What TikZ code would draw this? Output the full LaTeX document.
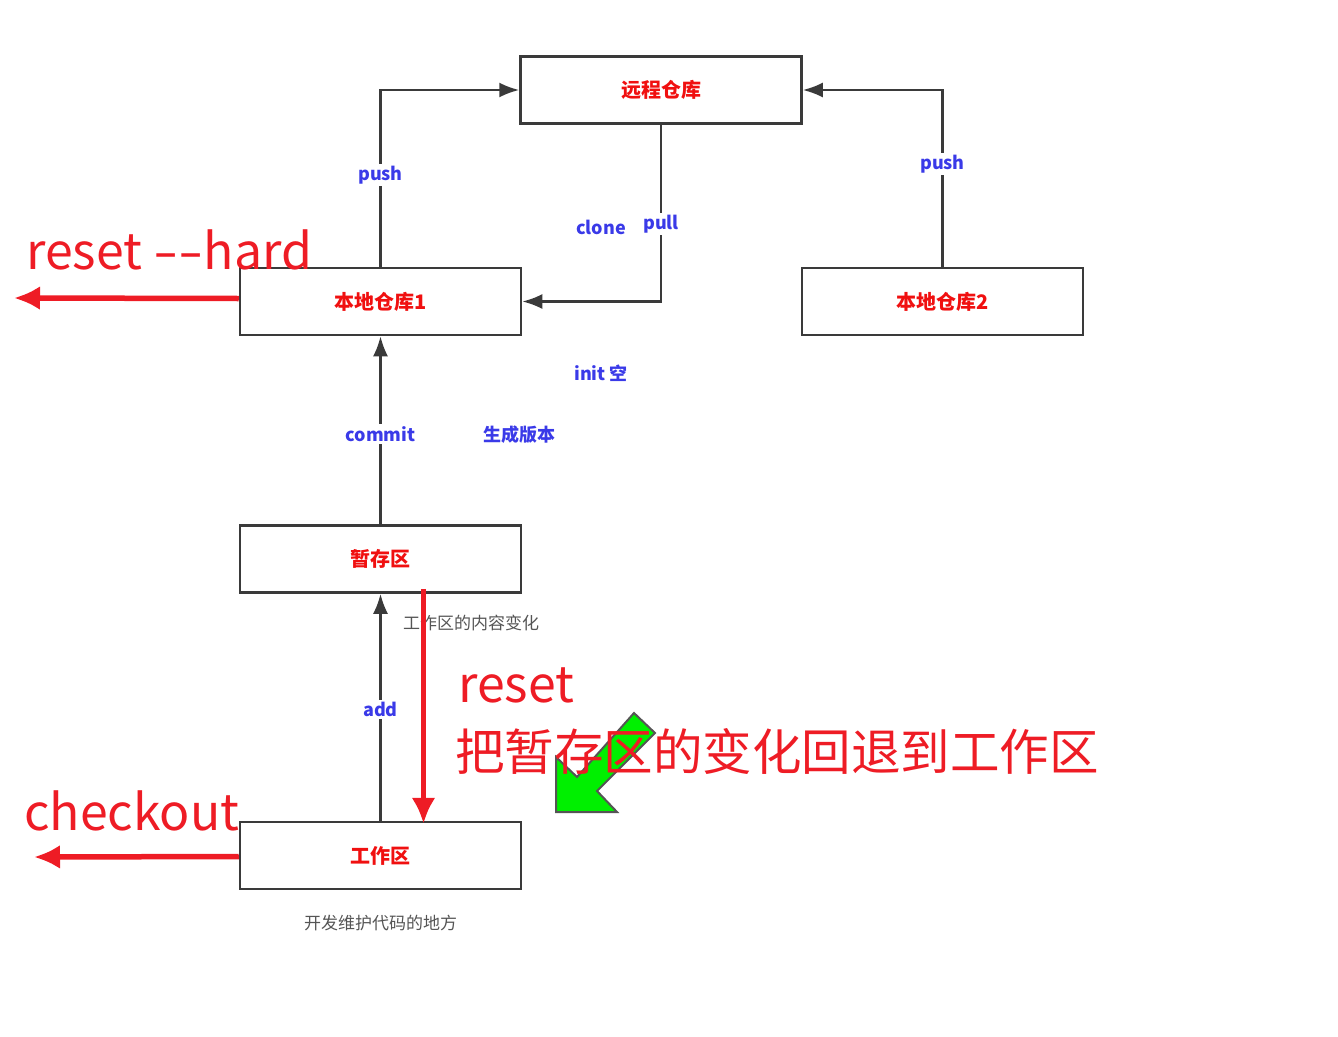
\documentclass[tikz,border=0pt]{standalone}
\usepackage{fontspec}
\usepackage{graphicx}
\setmainfont{Noto Sans CJK SC}
\usetikzlibrary{arrows.meta}
\definecolor{boxline}{HTML}{3A3A3A}
\definecolor{boxred}{HTML}{F01010}
\definecolor{lblblue}{HTML}{3A3AE8}
\definecolor{bigred}{HTML}{EE1C25}
\definecolor{noteg}{HTML}{555555}
\definecolor{arrgreen}{HTML}{00F000}
\newcommand{\widehy}{\scalebox{1.45}[1]{-}}
\tikzset{
  repobox/.style={draw=boxline, line width=2.5pt, minimum width=281pt, minimum height=67pt,
    inner sep=0pt, font=\fontsize{20}{24}\selectfont\bfseries, text=boxred},
  conn/.style={draw=boxline, line width=2.5pt, -{Latex[length=20pt,width=15pt]}},
  lbl/.style={fill=white, inner sep=2pt, text=lblblue, font=\fontsize{18}{22}\selectfont\bfseries},
  freelbl/.style={inner sep=0pt, text=lblblue, font=\fontsize{18}{22}\selectfont\bfseries},
  note/.style={inner sep=0pt, text=noteg, font=\fontsize{17}{20}\selectfont},
  bigtxt/.style={inner sep=0pt, anchor=base west, text=bigred, font=\fontsize{50}{56}\selectfont},
  redarrow/.style={draw=bigred, line width=5.5pt, -{Latex[length=26pt,width=24pt]}}
}
\begin{document}
\begin{tikzpicture}[x=1pt,y=-1pt]
\useasboundingbox (0,0) rectangle (1338,1036);
% boxes
\node[repobox] (remote) at (661,90) {远程仓库};
\node[repobox] (local1) at (380.5,301.5) {本地仓库1};
\node[repobox] (local2) at (942.5,301.5) {本地仓库2};
\node[repobox] (stage) at (380.5,559) {暂存区};
\node[repobox] (work) at (380.5,855.5) {工作区};
% connectors
\draw[conn] (local1.north) |- node[lbl, pos=0.26] {push} (remote.west);
\draw[conn] (local2.north) |- node[lbl, pos=0.29] {push} (remote.east);
\draw[conn] (remote.south) |- node[lbl, pos=0.28] {pull} (local1.east);
\draw[conn] (stage.north) -- node[lbl, pos=0.48] {commit} (local1.south);
\draw[conn] (work.north) -- node[lbl, pos=0.49] {add} (stage.south);
% free labels
\node[freelbl] (clone) at (601,227) {clone};
\node[freelbl] (init) at (601,373) {init 空};
\node[freelbl] (gen) at (519,435) {生成版本};
\node[note] (chg) at (471,623) {工作区的内容变化};
\node[note] (dev) at (380.5,923) {开发维护代码的地方};
% big red annotations
\node[bigtxt] (hardtxt) at (26,269) {reset \widehy\widehy hard};
\coordinate (hardend) at (14,298);
\draw[redarrow] ([yshift=3pt]local1.west) -- (hardend);
\node[bigtxt] (cotxt) at (24,830) {checkout};
\coordinate (coend) at (34,857);
\draw[redarrow] ([yshift=-1pt]work.west) -- (coend);
\draw[redarrow] ([xshift=43pt,yshift=5pt]stage.south) -- ([xshift=43pt,yshift=-3pt]work.north);
\node[bigtxt] (resettxt) at (458,702) {reset};
% green arrow
\draw[draw=noteg, line width=2pt, fill=arrgreen, line join=miter]
  (556,812) -- (556,757) -- (577,777) -- (634,713) -- (655,733) -- (597,791) -- (617,812) -- cycle;
\node[bigtxt, font=\fontsize{49.5}{56}\selectfont] (desc) at (455,770) {把暂存区的变化回退到工作区};
\end{tikzpicture}
\end{document}
